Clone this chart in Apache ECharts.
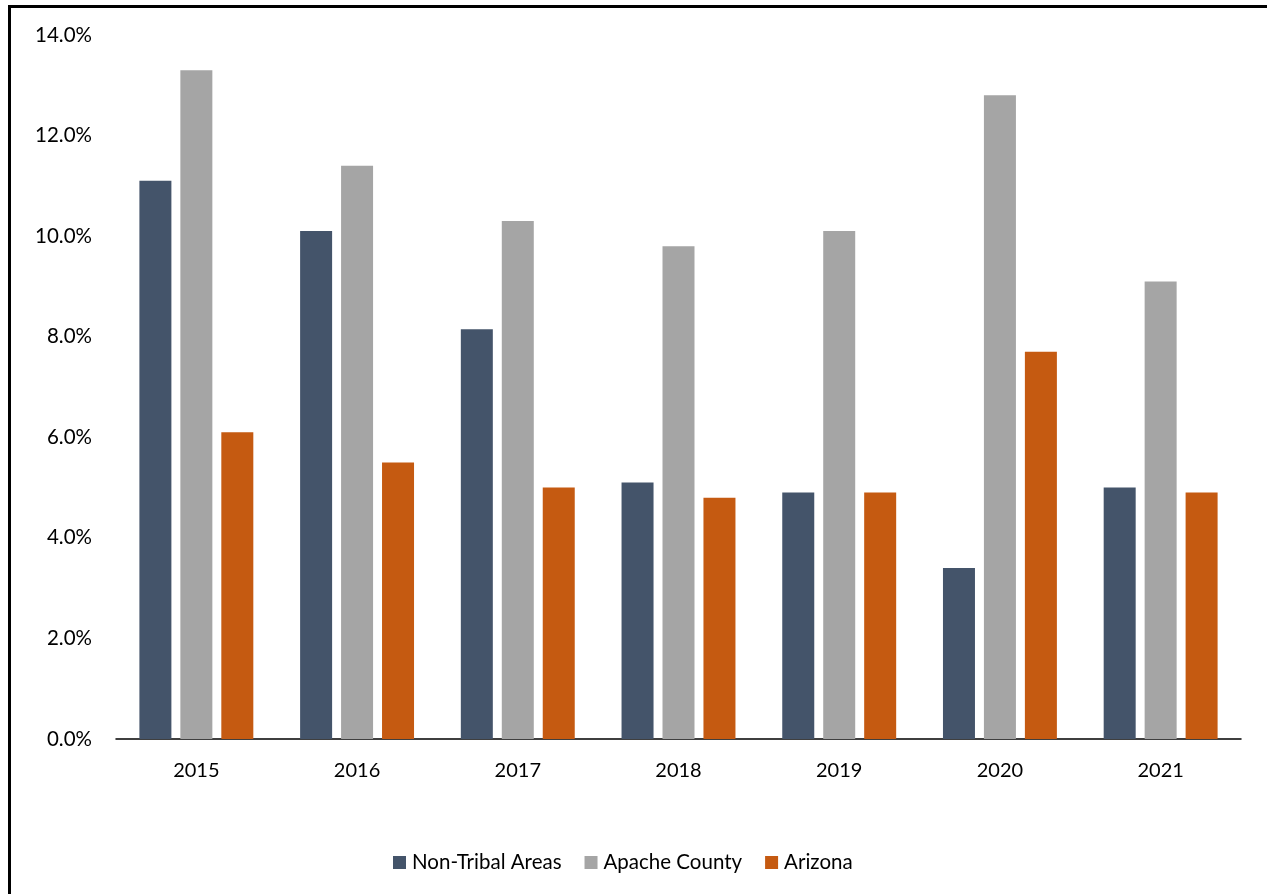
<!DOCTYPE html>
<html>
<head>
<meta charset="utf-8">
<script src="https://cdn.jsdelivr.net/npm/echarts@6/dist/echarts.min.js"></script>
<style>
  html, body { margin: 0; padding: 0; background: #fff; }
  #main { width: 1267px; height: 894px; }
  .frame {
    position: absolute;
    left: 8px;
    top: 5px;
    width: 1300px;
    height: 950px;
    border-left: 3px solid #000;
    border-top: 3px solid #000;
    pointer-events: none;
  }
</style>
</head>
<body>
<div id="main"></div>
<div class="frame"></div>
<script>
// data
const years = ['2015', '2016', '2017', '2018', '2019', '2020', '2021'];
const nonTribal = [11.1, 10.1, 8.15, 5.1, 4.9, 3.4, 5.0];
const apacheCounty = [13.3, 11.4, 10.3, 9.8, 10.1, 12.8, 9.1];
const arizona = [6.1, 5.5, 5.0, 4.8, 4.9, 7.7, 4.9];

const font = 'Lato, "Open Sans", sans-serif';

let chart = echarts.init(document.getElementById('main'));

const barSeries = (name, data, color) => ({
  name: name,
  type: 'bar',
  data: data,
  barWidth: 32,
  barGap: '28%',
  itemStyle: { color: color }
});

chart.setOption({
  animation: false,
  legend: {
    data: ['Non-Tribal Areas', 'Apache County', 'Arizona'],
    left: 388,
    top: 847,
    itemWidth: 13,
    itemHeight: 13,
    itemGap: 23,
    icon: 'rect',
    textStyle: { fontFamily: font, fontSize: 20.5, color: '#000', padding: [0, 0, 0, 1] }
  },
  grid: {
    left: 116,
    right: 26,
    top: 35,
    bottom: 155
  },
  xAxis: {
    type: 'category',
    data: years,
    axisTick: { show: false },
    axisLine: { show: true, lineStyle: { color: '#000', width: 1.5 } },
    axisLabel: { fontFamily: font, fontSize: 20, color: '#000', margin: 22 }
  },
  yAxis: {
    type: 'value',
    min: 0,
    max: 14,
    interval: 2,
    axisLine: { show: false },
    axisTick: { show: false },
    splitLine: { show: false },
    axisLabel: {
      fontFamily: font,
      fontSize: 20.5,
      color: '#000',
      margin: 24,
      formatter: v => v.toFixed(1) + '%'
    }
  },
  series: [
    barSeries('Non-Tribal Areas', nonTribal, '#44546A'),
    barSeries('Apache County', apacheCounty, '#A5A5A5'),
    barSeries('Arizona', arizona, '#C55A11')
  ]
});
</script>
</body>
</html>
